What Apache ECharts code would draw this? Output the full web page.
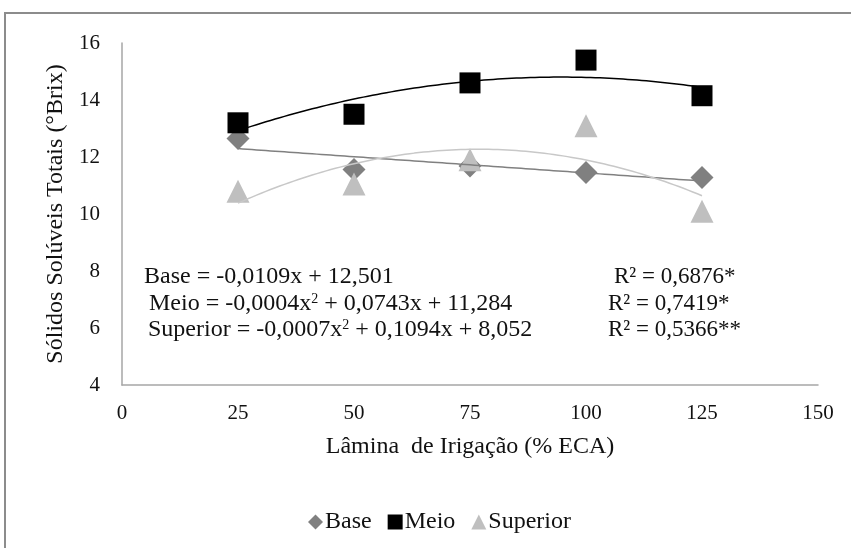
<!DOCTYPE html>
<html>
<head>
<meta charset="utf-8">
<script src="https://cdn.jsdelivr.net/npm/echarts@6/dist/echarts.min.js"></script>
<style>
html,body{margin:0;padding:0;background:#fff;}
#chart{width:851px;height:548px;}
</style>
</head>
<body>
<div id="chart"></div>
<script>
// ---- data ----
const xValues = [25, 50, 75, 100, 125];
const baseValues = [12.65, 11.56, 11.68, 11.46, 11.28];
const meioValues = [13.2, 13.5, 14.6, 15.4, 14.15];
const superiorValues = [10.8, 11.05, 11.9, 13.1, 10.1];
const seriesNames = ['Base', 'Meio', 'Superior'];
const yTicks = [4, 6, 8, 10, 12, 14, 16];
const xTicks = [0, 25, 50, 75, 100, 125, 150];
const equationTexts = [
  'Base = -0,0109x + 12,501',
  'Meio = -0,0004x{sup|2} + 0,0743x + 11,284',
  'Superior = -0,0007x{sup|2} + 0,1094x + 8,052'
];
const r2Texts = ['R² = 0,6876*', 'R² = 0,7419*', 'R² = 0,5366**'];

// least-squares polynomial trendline (as the spreadsheet draws it)
function polyfit(xs, ys, deg) {
  const n = deg + 1;
  const A = [];
  for (let i = 0; i < n; i++) {
    A.push(new Array(n + 1).fill(0));
    for (let j = 0; j < n; j++) {
      A[i][j] = xs.reduce((s, x) => s + Math.pow(x, i + j), 0);
    }
    A[i][n] = xs.reduce((s, x, k) => s + Math.pow(x, i) * ys[k], 0);
  }
  for (let c = 0; c < n; c++) {
    let p = c;
    for (let r = c + 1; r < n; r++) if (Math.abs(A[r][c]) > Math.abs(A[p][c])) p = r;
    [A[c], A[p]] = [A[p], A[c]];
    for (let r = 0; r < n; r++) {
      if (r === c) continue;
      const f = A[r][c] / A[c][c];
      for (let k = c; k <= n; k++) A[r][k] -= f * A[c][k];
    }
  }
  return A.map((row, i) => row[n] / A[i][i]);
}
function trend(xs, ys, deg) {
  const coef = polyfit(xs, ys, deg);
  const pts = [];
  const x0 = xs[0], x1 = xs[xs.length - 1];
  for (let x = x0; x <= x1 + 1e-9; x += 1) {
    let y = 0;
    for (let i = 0; i < coef.length; i++) y += coef[i] * Math.pow(x, i);
    pts.push([x, y]);
  }
  return pts;
}
const pair = (vals) => xValues.map((x, i) => [x, vals[i]]);

const colors = { Base: '#808080', Meio: '#000000', Superior: '#bfbfbf' };
const FONT = '"Liberation Serif", "Times New Roman", serif';

const chart = echarts.init(document.getElementById('chart'), null, { renderer: 'canvas' });

const graphics = [
  { type: 'rect', shape: { x: 5, y: 13, width: 900, height: 600 },
    style: { fill: 'none', stroke: '#8c8c8c', lineWidth: 2 }, silent: true, z: 0 }
];
const eqX = [144, 149, 148];
const eqY = [278, 305, 331];
const r2X = [614, 608, 608];
for (let i = 0; i < 3; i++) {
  graphics.push({
    type: 'text', left: eqX[i], top: eqY[i] - 13, z: 10,
    style: {
      text: equationTexts[i], font: '24px ' + FONT, fill: '#111',
      rich: { sup: { fontSize: 14, verticalAlign: 'top', padding: [0, 0, 10, 0], fontFamily: FONT } }
    }
  });
  graphics.push({
    type: 'text', left: r2X[i], top: eqY[i] - 13, z: 10,
    style: { text: r2Texts[i], font: '23px ' + FONT, fill: '#111' }
  });
}

chart.setOption({
  animation: false,
  backgroundColor: '#fff',
  textStyle: { fontFamily: FONT },
  grid: { left: 122, right: 33, top: 43, bottom: 163, containLabel: false },
  xAxis: {
    type: 'value', min: xTicks[0], max: xTicks[xTicks.length - 1], interval: 25,
    name: 'Lâmina  de Irigação (% ECA)', nameLocation: 'middle', nameGap: 50,
    nameTextStyle: { fontSize: 24, color: '#111', fontFamily: FONT },
    axisLine: { show: true, lineStyle: { color: '#a6a6a6', width: 1.5 } },
    axisTick: { show: false },
    splitLine: { show: false },
    axisLabel: { fontSize: 21, color: '#111', margin: 18, fontFamily: FONT }
  },
  yAxis: {
    type: 'value', min: yTicks[0], max: yTicks[yTicks.length - 1], interval: 2,
    name: 'Sólidos Solúveis Totais (°Brix)', nameLocation: 'middle', nameGap: 50, nameRotate: 90,
    nameTextStyle: { fontSize: 24, color: '#111', fontFamily: FONT },
    axisLine: { show: true, lineStyle: { color: '#a6a6a6', width: 1.5 } },
    axisTick: { show: false },
    splitLine: { show: false },
    axisLabel: { fontSize: 21, color: '#111', margin: 22, fontFamily: FONT }
  },
  legend: {
    data: [
      { name: 'Base', icon: 'diamond' },
      { name: 'Meio', icon: 'rect' },
      { name: 'Superior', icon: 'triangle' }
    ],
    left: 303, top: 505, itemWidth: 15, itemHeight: 15, itemGap: 16,
    textStyle: { fontSize: 24, color: '#111', fontFamily: FONT, padding: [0, 0, 0, -3] }
  },
  graphic: graphics,
  series: [
    { name: 'Base', type: 'scatter', symbol: 'diamond', symbolSize: 23, data: pair(baseValues),
      itemStyle: { color: colors.Base, opacity: 1 }, z: 2 },
    { name: 'Meio', type: 'scatter', symbol: 'rect', symbolSize: 21, data: pair(meioValues),
      itemStyle: { color: colors.Meio, opacity: 1 }, z: 2 },
    { name: 'Superior', type: 'scatter', symbol: 'triangle', symbolSize: 23, data: pair(superiorValues),
      itemStyle: { color: colors.Superior, opacity: 1 }, z: 2 },
    { name: 'Base trend', type: 'line', data: trend(xValues, baseValues, 1), showSymbol: false,
      lineStyle: { color: '#808080', width: 1.5 }, z: 3, silent: true },
    { name: 'Meio trend', type: 'line', data: trend(xValues, meioValues, 2), showSymbol: false,
      lineStyle: { color: '#000000', width: 1.5 }, z: 3, silent: true },
    { name: 'Superior trend', type: 'line', data: trend(xValues, superiorValues, 2), showSymbol: false,
      lineStyle: { color: '#c8c8c8', width: 1.5 }, z: 3, silent: true }
  ]
});
</script>
</body>
</html>
